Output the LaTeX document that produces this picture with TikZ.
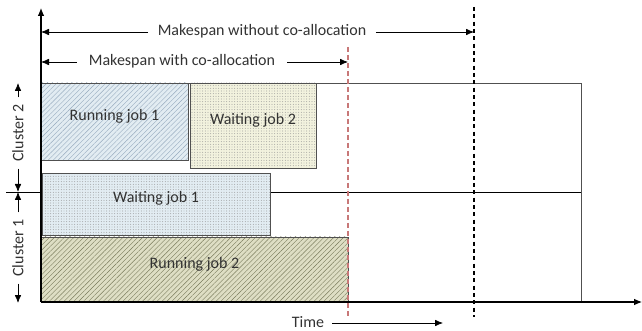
\documentclass[tikz,border=0pt]{standalone}
\usepackage{fontspec}
\setmainfont{Carlito}
\usepackage{tikz}
\usetikzlibrary{arrows.meta,positioning,fit,patterns.meta}
\definecolor{jblue}{RGB}{226,236,242}
\definecolor{jbluel}{RGB}{150,170,190}
\definecolor{jyel}{RGB}{242,242,222}
\definecolor{jolive}{RGB}{222,222,196}
\definecolor{joliveL}{RGB}{120,122,90}
\definecolor{jred}{RGB}{200,120,120}
\definecolor{jtext}{RGB}{50,50,50}
\definecolor{jframe}{RGB}{80,80,80}
\tikzset{
  job/.style={draw=jframe,inner sep=0pt,font=\fontsize{12}{14}\selectfont,text=jtext},
  runjob/.style={job,preaction={fill=#1},
                 pattern={Lines[angle=45,distance=2.6pt,line width=0.3pt]}},
  waitjob/.style={job,preaction={fill=#1},
                  pattern={Dots[distance=2pt,radius=0.32pt]},pattern color=black!45},
  lbl/.style={font=\fontsize{12}{14}\selectfont,text=jtext,inner sep=1pt},
  span/.style={-{Latex[length=6pt,width=5pt]},black,semithick},
  axis/.style={-{Latex[length=6pt,width=5pt]},black,thick},
}

\begin{document}
\begin{tikzpicture}[x=0.75pt,y=-0.75pt]
  \useasboundingbox (0,0) rectangle (642,331);
  % outer frame and cluster divider
  \draw[jframe,semithick] (41,83) rectangle (581,302);
  \coordinate (divl) at (6,192);
  \coordinate (divr) at (581,192);
  \draw[black] (divl) -- (divr);
  % jobs
  \node[runjob=jblue,pattern color=jbluel,fit={(41,83) (188,160)}] (rj1) {Running job 1};
  \node[waitjob=jyel,fit={(190,83) (316,168)}] (wj2) {Waiting job 2};
  \node[waitjob=jblue,fit={(42,173) (270,235)}] (wj1) {Waiting job 1};
  \node[runjob=jolive,pattern color=joliveL,fit={(41,237) (348,302)}] (rj2) {Running job 2};
  % axes
  \coordinate (o) at (41,302);
  \coordinate (ytop) at (41,8);
  \coordinate (xend) at (642,302);
  \draw[axis] (o) -- (ytop);
  \draw[axis] (o) -- (xend);
  % makespan markers
  \coordinate (redtop) at (348,47);
  \coordinate (redbot) at (348,317);
  \coordinate (blktop) at (474,7);
  \coordinate (blkbot) at (474,317);
  \draw[jred,thick,dash pattern=on 3.5pt off 2.5pt] (redtop) -- (redbot);
  \draw[black,thick,dash pattern=on 3pt off 2.5pt] (blktop) -- (blkbot);
  \node[lbl,inner xsep=7pt] (mwo) at (262,31) {Makespan without co-allocation};
  \coordinate (wol) at (41,32);
  \coordinate (wor) at (474,32);
  \draw[span] (mwo.west |- wol) -- (wol);
  \draw[span] (mwo.east |- wor) -- (wor);
  \node[lbl,inner xsep=9pt] (mw) at (182,61) {Makespan with co-allocation};
  \coordinate (wl) at (41,62);
  \coordinate (wr) at (348,62);
  \draw[span] (mw.west |- wl) -- (wl);
  \draw[span] (mw.east |- wr) -- (wr);
  % cluster ranges
  \node[lbl,rotate=90,inner xsep=5pt] (c2) at (18,133) {Cluster 2};
  \coordinate (c2t) at (18,83);
  \coordinate (c2b) at (18,192);
  \draw[span] (c2) -- (c2t);
  \draw[span] (c2) -- (c2b);
  \node[lbl,rotate=90,inner xsep=5pt] (c1) at (18,248) {Cluster 1};
  \coordinate (c1t) at (18,192);
  \coordinate (c1b) at (18,303);
  \draw[span] (c1) -- (c1t);
  \draw[span] (c1) -- (c1b);
  % time label
  \node[lbl,inner xsep=6pt,inner ysep=0pt] (time) at (308,322) {Time};
  \coordinate (timer) at (443,323);
  \draw[span] (time.east |- timer) -- (timer);
\end{tikzpicture}
\end{document}
